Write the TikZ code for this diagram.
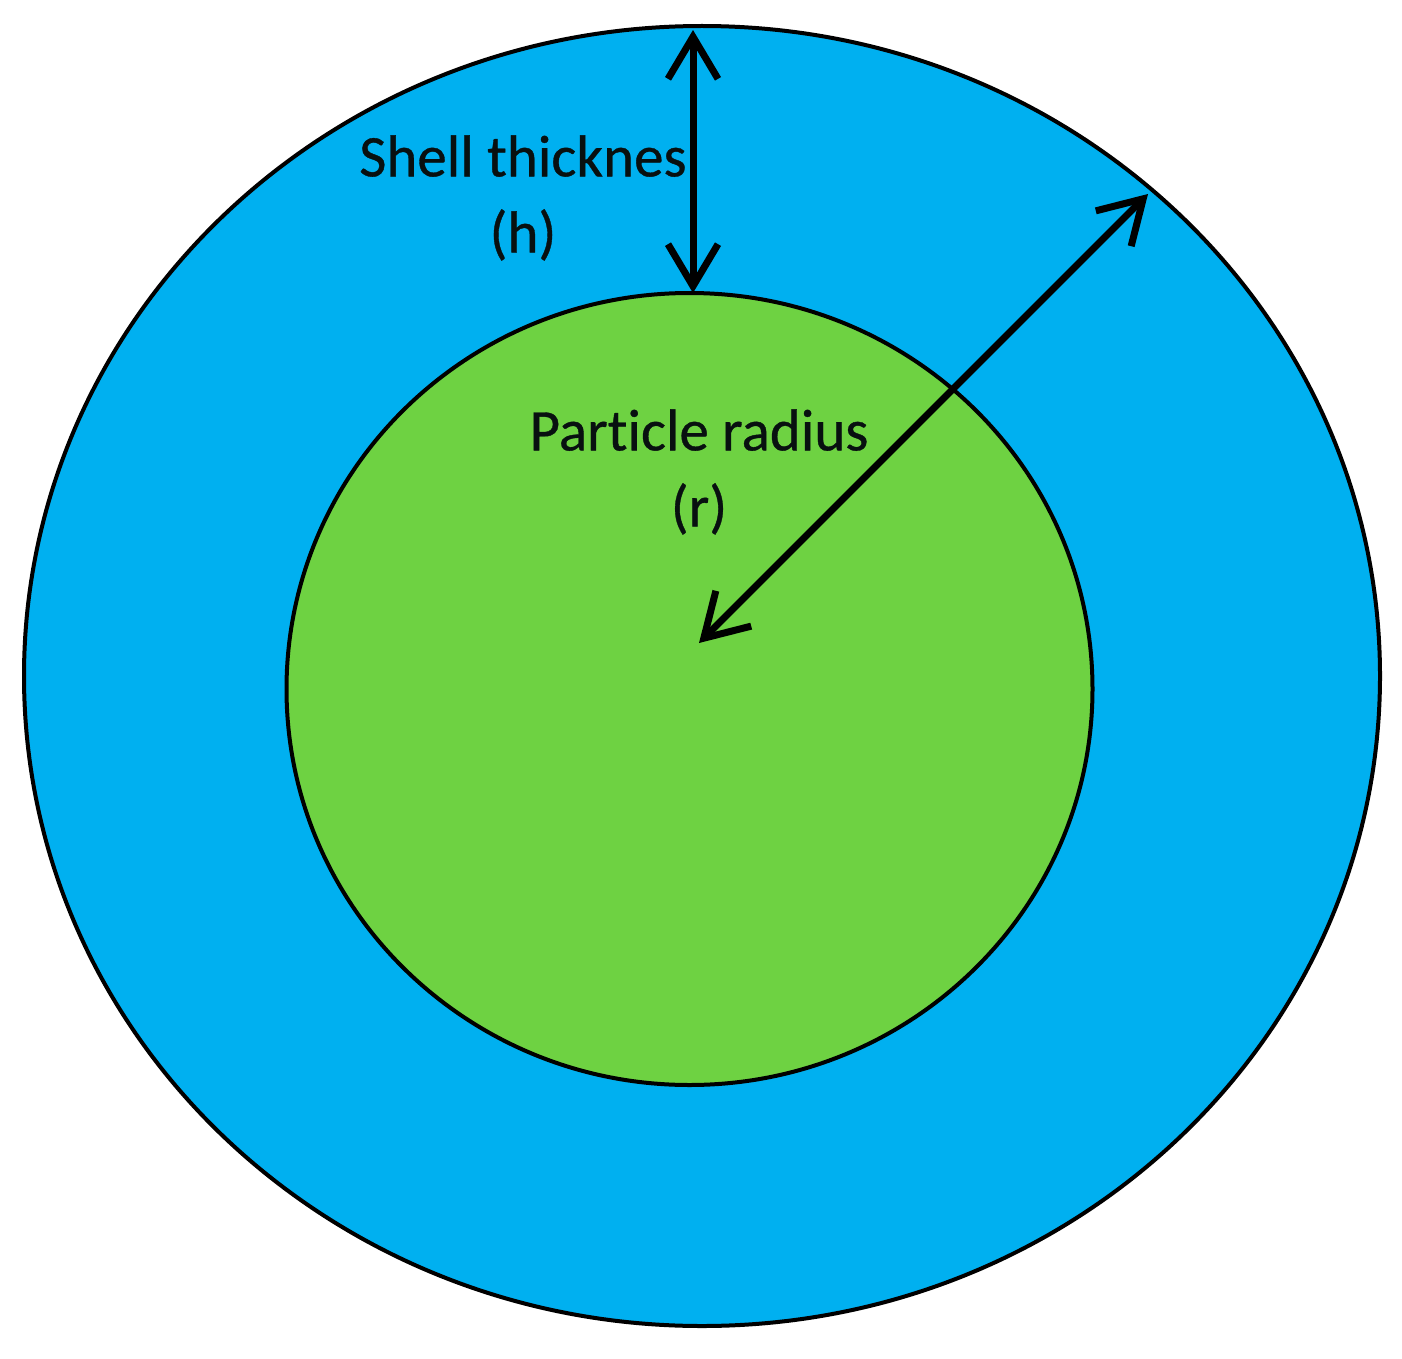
\documentclass[tikz,border=0pt]{standalone}
\usepackage{fontspec}
\setmainfont{Carlito}[FakeBold=0.6,Ligatures=NoCommon]
\usetikzlibrary{arrows.meta}
\definecolor{shellblue}{RGB}{0,176,240}
\definecolor{coregreen}{RGB}{110,210,66}
\definecolor{txt}{RGB}{8,16,16}
\tikzset{
  ring/.style={draw=black, line width=4pt},
  dimarrow/.style={line width=7pt, line cap=round, {Straight Barb[length=42pt,width=50pt,line width=7pt]}-{Straight Barb[length=42pt,width=50pt,line width=7pt]}},
  lbl/.style={align=center, font=\fontsize{59}{76}\selectfont, text=txt, inner sep=0pt}
}
\begin{document}
\begin{tikzpicture}[x=1pt,y=-1pt]
\useasboundingbox (0,0) rectangle (1402,1359);
\fill[white] (0,0) rectangle (1402,1359);
\draw[ring, fill=shellblue] (702,676) ellipse [x radius=678, y radius=650];
\draw[ring, fill=coregreen] (689.5,689) ellipse [x radius=403, y radius=396];
\coordinate (htop) at (693,30);
\coordinate (hbot) at (693,293);
\coordinate (rout) at (1148,194);
\coordinate (rcen) at (699,643);
\draw[dimarrow] (htop) -- (hbot);
\draw[dimarrow] (rout) -- (rcen);
\node[lbl] (shell) at (523,198) {Shell thicknes\\(h)};
\node[lbl] (core) at (699,472) {Part\kern0pt icle radius\\(r)};
\end{tikzpicture}
\end{document}
